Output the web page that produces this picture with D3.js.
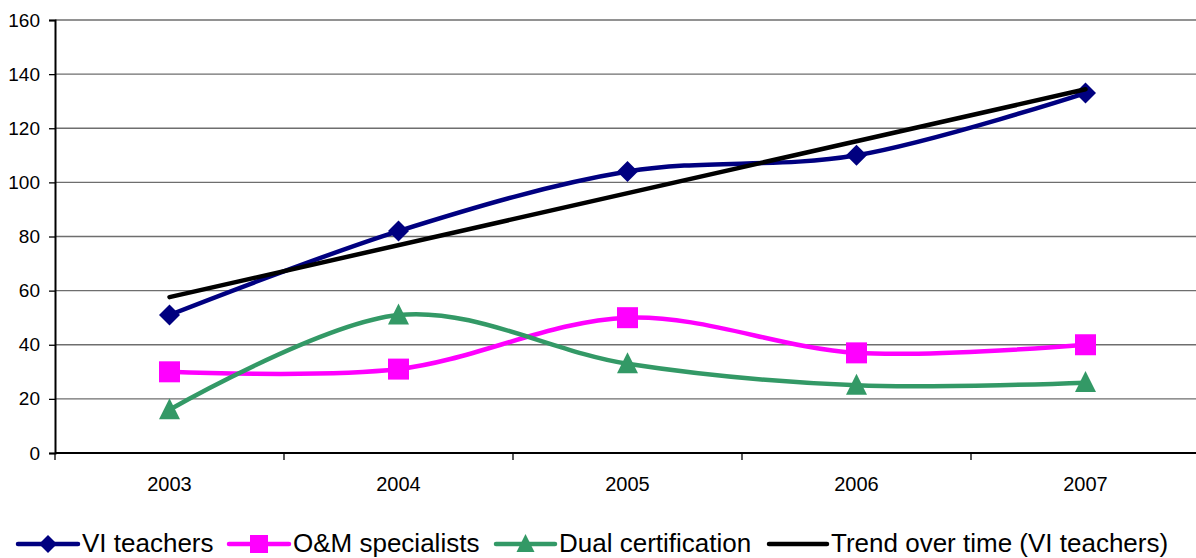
<!DOCTYPE html>
<html>
<head>
<meta charset="utf-8">
<script src="https://cdn.jsdelivr.net/npm/d3@7/dist/d3.min.js"></script>
<style>
  html, body { margin: 0; padding: 0; background: #fff; }
  svg { display: block; font-family: "Liberation Sans", Arial, sans-serif; }
</style>
</head>
<body>
<svg id="chart" width="1196" height="558"></svg>
<script>
// Staffing counts per year
const years = ["2003", "2004", "2005", "2006", "2007"];
const viTeachers = [51, 82, 104, 110, 133];
const omSpecialists = [30, 31, 50, 37, 40];
const dualCertification = [16, 51, 33, 25, 26];
// Linear trend of VI teachers, start and end values
const trendYears = ["2003", "2007"];
const trendValues = [57.6, 134.4];
const yTicks = [0, 20, 40, 60, 80, 100, 120, 140, 160];

const svg = d3.select("#chart");
const plotLeft = 55, plotRight = 1200, plotTop = 20, plotBottom = 453;

const xBand = d3.scaleBand().domain(years).range([plotLeft, plotRight]);
const xc = d => xBand(d) + xBand.bandwidth() / 2;
const y = d3.scaleLinear().domain([0, 160]).range([plotBottom, plotTop]);

// Horizontal gridlines
svg.append("g")
  .selectAll("line")
  .data(yTicks.filter(t => t > 0))
  .join("line")
  .attr("x1", plotLeft).attr("x2", 1196)
  .attr("y1", d => y(d)).attr("y2", d => y(d))
  .attr("stroke", "#6e6e6e").attr("stroke-width", 1.3);

// Y axis
const yAxis = svg.append("g")
  .attr("transform", `translate(${plotLeft},0)`)
  .call(d3.axisLeft(y).tickValues(yTicks).tickSize(6).tickPadding(9));
yAxis.select(".domain").attr("stroke", "#000").attr("stroke-width", 2);
yAxis.selectAll(".tick line").attr("stroke", "#000").attr("stroke-width", 1.3);
yAxis.selectAll(".tick text")
  .attr("font-size", 19).attr("fill", "#000")
  .attr("font-family", "Liberation Sans, Arial, sans-serif");

// X axis with ticks at category boundaries
svg.append("line")
  .attr("x1", plotLeft).attr("x2", 1196)
  .attr("y1", plotBottom).attr("y2", plotBottom)
  .attr("stroke", "#000").attr("stroke-width", 2);
svg.append("g")
  .selectAll("line")
  .data(years)
  .join("line")
  .attr("x1", d => xBand(d)).attr("x2", d => xBand(d))
  .attr("y1", plotBottom).attr("y2", plotBottom + 7)
  .attr("stroke", "#000").attr("stroke-width", 1.3);
svg.append("g")
  .selectAll("text")
  .data(years)
  .join("text")
  .attr("x", d => xc(d)).attr("y", 491)
  .attr("text-anchor", "middle")
  .attr("font-size", 20)
  .text(d => d);

const curve = d3.curveCardinal.tension(0);
const series = [
  { name: "VI teachers", values: viTeachers, color: "#000080", shape: "diamond" },
  { name: "O&M specialists", values: omSpecialists, color: "#ff00ff", shape: "square" },
  { name: "Dual certification", values: dualCertification, color: "#339966", shape: "triangle" }
];

function marker(g, shape, color, s) {
  if (shape === "diamond") {
    g.append("path").attr("d", `M0,${-s/2}L${s/2},0L0,${s/2}L${-s/2},0Z`).attr("fill", color);
  } else if (shape === "square") {
    g.append("rect").attr("x", -s/2).attr("y", -s/2).attr("width", s).attr("height", s).attr("fill", color);
  } else {
    const h = s;
    g.append("path").attr("d", `M0,${-h*0.55}L${s/2},${h*0.45}L${-s/2},${h*0.45}Z`).attr("fill", color);
  }
}

const line = d3.line().x((d, i) => xc(years[i])).y(d => y(d)).curve(curve);

series.forEach(s => {
  svg.append("path")
    .attr("d", line(s.values))
    .attr("fill", "none").attr("stroke", s.color).attr("stroke-width", 4.5)
    .attr("stroke-linejoin", "round");
});
series.forEach(s => {
  s.values.forEach((v, i) => {
    const g = svg.append("g").attr("transform", `translate(${xc(years[i])},${y(v)})`);
    marker(g, s.shape, s.color, 21);
  });
});

// Trend line
svg.append("path")
  .attr("d", d3.line().x((d, i) => xc(trendYears[i])).y(d => y(d))(trendValues))
  .attr("fill", "none").attr("stroke", "#000").attr("stroke-width", 4.5)
  .attr("stroke-linecap", "round");

// Legend
const legendItems = [
  { name: "VI teachers", color: "#000080", shape: "diamond", x1: 18, x2: 78 },
  { name: "O&M specialists", color: "#ff00ff", shape: "square", x1: 229, x2: 289 },
  { name: "Dual certification", color: "#339966", shape: "triangle", x1: 496, x2: 555 },
  { name: "Trend over time (VI teachers)", color: "#000", shape: null, x1: 769, x2: 827 }
];
const ly = 544;
legendItems.forEach(it => {
  svg.append("line")
    .attr("x1", it.x1).attr("x2", it.x2).attr("y1", ly).attr("y2", ly)
    .attr("stroke", it.color).attr("stroke-width", 4.5).attr("stroke-linecap", "round");
  if (it.shape) {
    const g = svg.append("g").attr("transform", `translate(${(it.x1 + it.x2) / 2},${ly})`);
    marker(g, it.shape, it.color, 18);
  }
  svg.append("text")
    .attr("x", it.x2 + 4).attr("y", 552)
    .attr("font-size", 26)
    .text(it.name);
});
</script>
</body>
</html>
